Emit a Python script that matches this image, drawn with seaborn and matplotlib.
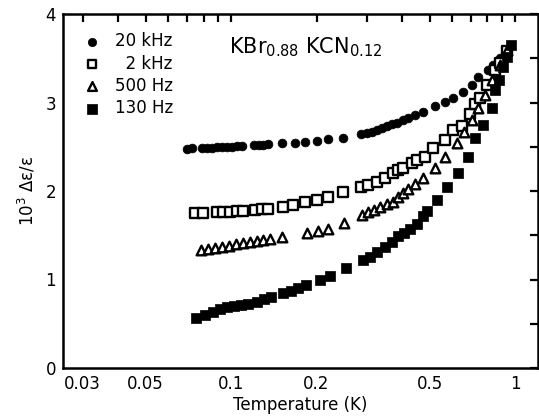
import numpy as np
import pandas as pd
import matplotlib
matplotlib.use("Agg")
import matplotlib.pyplot as plt
import seaborn as sns

sns.set_style("white")
plt.rcParams["font.family"] = ["DejaVu Sans"]
plt.rcParams["mathtext.default"] = "regular"
plt.rcParams["text.color"] = "black"
plt.rcParams["axes.labelcolor"] = "black"
plt.rcParams["xtick.color"] = "black"
plt.rcParams["ytick.color"] = "black"

# 20 kHz (filled circles)
t_20k = [0.070, 0.073, 0.079, 0.082, 0.086, 0.089, 0.093, 0.097, 0.101, 0.105, 0.109,
         0.120, 0.125, 0.130, 0.135, 0.151, 0.168, 0.182, 0.201, 0.220, 0.248, 0.287,
         0.301, 0.314, 0.327, 0.340, 0.355, 0.369, 0.384, 0.403, 0.420, 0.445, 0.475,
         0.523, 0.567, 0.605, 0.656, 0.706, 0.741, 0.804, 0.837, 0.886, 0.937]
e_20k = [2.48, 2.49, 2.49, 2.49, 2.49, 2.50, 2.50, 2.50, 2.50, 2.51, 2.51,
         2.52, 2.52, 2.52, 2.53, 2.54, 2.54, 2.55, 2.56, 2.59, 2.60, 2.64,
         2.66, 2.67, 2.69, 2.71, 2.73, 2.76, 2.77, 2.80, 2.82, 2.86, 2.89,
         2.96, 3.01, 3.05, 3.12, 3.20, 3.29, 3.37, 3.42, 3.50, 3.58]

# 2 kHz (open squares)
t_2k = [0.0746, 0.0797, 0.0893, 0.0937, 0.0992, 0.105, 0.110, 0.1215, 0.1286, 0.135,
        0.1524, 0.1653, 0.1823, 0.2008, 0.2196, 0.248, 0.287, 0.3038, 0.3268, 0.3485,
        0.372, 0.3873, 0.4033, 0.4339, 0.4518, 0.4822, 0.5145, 0.5669, 0.6049, 0.6507,
        0.694, 0.723, 0.753, 0.797, 0.850, 0.886, 0.937]
e_2k = [1.75, 1.75, 1.76, 1.76, 1.76, 1.77, 1.77, 1.79, 1.80, 1.80,
        1.82, 1.84, 1.88, 1.90, 1.93, 1.99, 2.05, 2.07, 2.10, 2.15,
        2.20, 2.24, 2.26, 2.32, 2.35, 2.38, 2.49, 2.58, 2.69, 2.73,
        2.87, 2.98, 3.05, 3.20, 3.37, 3.45, 3.58]

# 500 Hz (open triangles)
t_500 = [0.0784, 0.083, 0.0878, 0.093, 0.0984, 0.1041, 0.1102, 0.1166, 0.1235, 0.1296,
         0.1372, 0.1512, 0.1852, 0.2024, 0.2196, 0.250, 0.2894, 0.3038, 0.3189, 0.3347,
         0.3545, 0.372, 0.3873, 0.4033, 0.420, 0.4446, 0.4745, 0.5228, 0.5669, 0.625,
         0.661, 0.706, 0.741, 0.784, 0.831, 0.886, 0.937]
e_500 = [1.33, 1.35, 1.36, 1.37, 1.38, 1.40, 1.41, 1.42, 1.44, 1.45,
         1.46, 1.48, 1.53, 1.55, 1.57, 1.64, 1.73, 1.76, 1.79, 1.82,
         1.85, 1.88, 1.93, 1.98, 2.02, 2.08, 2.15, 2.26, 2.38, 2.54,
         2.67, 2.80, 2.94, 3.08, 3.25, 3.42, 3.59]

# 130 Hz (filled squares)
t_130 = [0.0753, 0.081, 0.0864, 0.0915, 0.0968, 0.1025, 0.1084, 0.1148, 0.1235, 0.1307,
         0.1383, 0.1524, 0.1626, 0.1721, 0.1838, 0.2058, 0.2231, 0.2541, 0.2917, 0.3085,
         0.3268, 0.3485, 0.369, 0.3873, 0.4066, 0.4268, 0.4518, 0.4745, 0.4898, 0.5314,
         0.5763, 0.630, 0.6831, 0.7233, 0.7715, 0.8299, 0.8506, 0.8786, 0.9075, 0.937, 0.968]
e_130 = [0.57, 0.60, 0.63, 0.67, 0.69, 0.70, 0.71, 0.72, 0.75, 0.78,
         0.80, 0.85, 0.87, 0.90, 0.94, 0.99, 1.04, 1.13, 1.22, 1.25,
         1.31, 1.37, 1.42, 1.49, 1.53, 1.57, 1.63, 1.72, 1.77, 1.90,
         2.05, 2.20, 2.38, 2.60, 2.75, 2.94, 3.14, 3.25, 3.40, 3.51, 3.65]

labels = ["20 kHz", "  2 kHz", "500 Hz", "130 Hz"]

fig = plt.figure(figsize=(5.39, 4.16), dpi=100)
ax = fig.add_axes([63 / 539, 1 - 368 / 416, 475 / 539, 354 / 416])

sns.scatterplot(x=t_20k, y=e_20k, ax=ax, marker="o", s=40, color="black",
                edgecolor="black", linewidth=0.5, label=labels[0], zorder=3)
sns.scatterplot(x=t_2k, y=e_2k, ax=ax, marker="s", s=42, facecolor="white",
                edgecolor="black", linewidth=1.7, label=labels[1], zorder=3)
sns.scatterplot(x=t_500, y=e_500, ax=ax, marker="^", s=48, facecolor="white",
                edgecolor="black", linewidth=1.7, label=labels[2], zorder=3)
sns.scatterplot(x=t_130, y=e_130, ax=ax, marker="s", s=58, color="black",
                edgecolor="black", linewidth=0.5, label=labels[3], zorder=3)

ax.set_xscale("log")
ax.set_xlim(0.0256, 1.205)
ax.set_ylim(0, 4)

xt = [0.03, 0.04, 0.05, 0.06, 0.07, 0.08, 0.09, 0.1, 0.2, 0.3, 0.4, 0.5, 0.6, 0.7, 0.8, 0.9, 1.0]
xl = {0.03: "0.03", 0.05: "0.05", 0.1: "0.1", 0.2: "0.2", 0.5: "0.5", 1.0: "1"}
ax.set_xticks(xt)
ax.set_xticklabels([xl.get(v, "") for v in xt])
ax.xaxis.set_minor_locator(matplotlib.ticker.NullLocator())
ax.set_yticks([0, 1, 2, 3, 4])
ax.set_yticks(np.arange(0.5, 4, 1.0), minor=True)

for s in ax.spines.values():
    s.set_linewidth(1.8)
    s.set_color("black")
ax.tick_params(which="both", direction="in", length=6, width=1.6, top=True, right=True,
               labelsize=12, pad=5, colors="black")

ax.set_xlabel("Temperature (K)", fontsize=12, labelpad=2)
ax.set_ylabel(r"$10^3$ Δε/ε", fontsize=12, labelpad=6)

ax.text(0.35, 0.905, r"KBr$_{0.88}$ KCN$_{0.12}$", transform=ax.transAxes,
        fontsize=15, ha="left", va="center")

leg = ax.legend(loc="upper left", bbox_to_anchor=(-0.01, 0.995), frameon=False, fontsize=12,
                handletextpad=0.4, labelspacing=0.25, borderaxespad=0.6)
for h, sz in zip(leg.legend_handles, [36, 30, 40, 50]):
    h.set_sizes([sz])

fig.savefig("out.png", dpi=100)
